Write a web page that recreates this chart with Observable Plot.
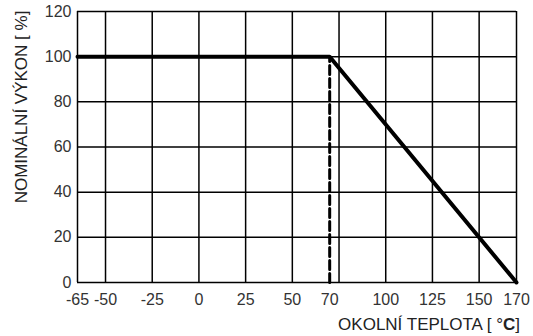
<!DOCTYPE html>
<html><head><meta charset="utf-8">
<script src="https://cdn.jsdelivr.net/npm/d3@7"></script>
<script src="https://cdn.jsdelivr.net/npm/@observablehq/plot@0.6"></script>
<style>body{margin:0;background:#fff}</style>
</head><body><div id="chart"></div>
<script>
const curveX = [-65, 70, 170];
const curveY = [100, 100, 0];
const dashX = [70, 70];
const dashY = [0, 100];
const gridX = [-65, -50, -25, 0, 25, 50, 75, 100, 125, 150, 170];
const gridY = [0, 20, 40, 60, 80, 100, 120];
const xTicks = [-65, -50, -25, 0, 25, 50, 70, 100, 125, 150, 170];
const yTicks = [0, 20, 40, 60, 80, 100, 120];
const xTitle = "OKOLNÍ TEPLOTA [ °";
const xTitleUnit = "C";
const yTitle = "NOMINÁLNÍ VÝKON [ %]";

const curve = curveX.map((x, i) => ({x, y: curveY[i]}));
const dash = dashX.map((x, i) => ({x, y: dashY[i]}));

const plot = Plot.plot({
  width: 533, height: 336,
  marginLeft: 77, marginRight: 17, marginTop: 11, marginBottom: 54,
  style: {fontFamily: "Liberation Sans, Arial, sans-serif", fontSize: "16px", color: "#222", background: "#fff"},
  x: {domain: [-65, 170]},
  y: {domain: [0, 120]},
  marks: [
    Plot.ruleX(gridX, {stroke: "#000", strokeWidth: 1.5}),
    Plot.ruleY(gridY, {stroke: "#000", strokeWidth: 1.5}),
    Plot.line(dash, {x: "x", y: "y", stroke: "#000", strokeWidth: 3, strokeDasharray: "9,4"}),
    Plot.line(curve, {x: "x", y: "y", stroke: "#000", strokeWidth: 4, strokeLinejoin: "miter"}),
    Plot.axisX({ticks: xTicks, tickSize: 0, tickPadding: 11, label: null, fill: "#333", fontSize: 16, tickFormat: d => String(d)}),
    Plot.axisY({ticks: yTicks, tickSize: 0, tickPadding: 6, label: null, fill: "#333", fontSize: 16, tickFormat: d => String(d)})
  ]
});
document.getElementById("chart").appendChild(plot);
const svg = d3.select(plot);
const t = svg.append("text").attr("x", 520).attr("y", 330).attr("text-anchor", "end")
  .attr("fill", "#222").style("font-size", "17px");
t.append("tspan").text(xTitle);
t.append("tspan").attr("font-weight", "bold").text(xTitleUnit);
t.append("tspan").text("]");
svg.append("text").attr("transform", "translate(27,107) rotate(-90)").attr("text-anchor", "middle")
  .attr("fill", "#222").style("font-size", "17px").text(yTitle);
</script></body></html>
